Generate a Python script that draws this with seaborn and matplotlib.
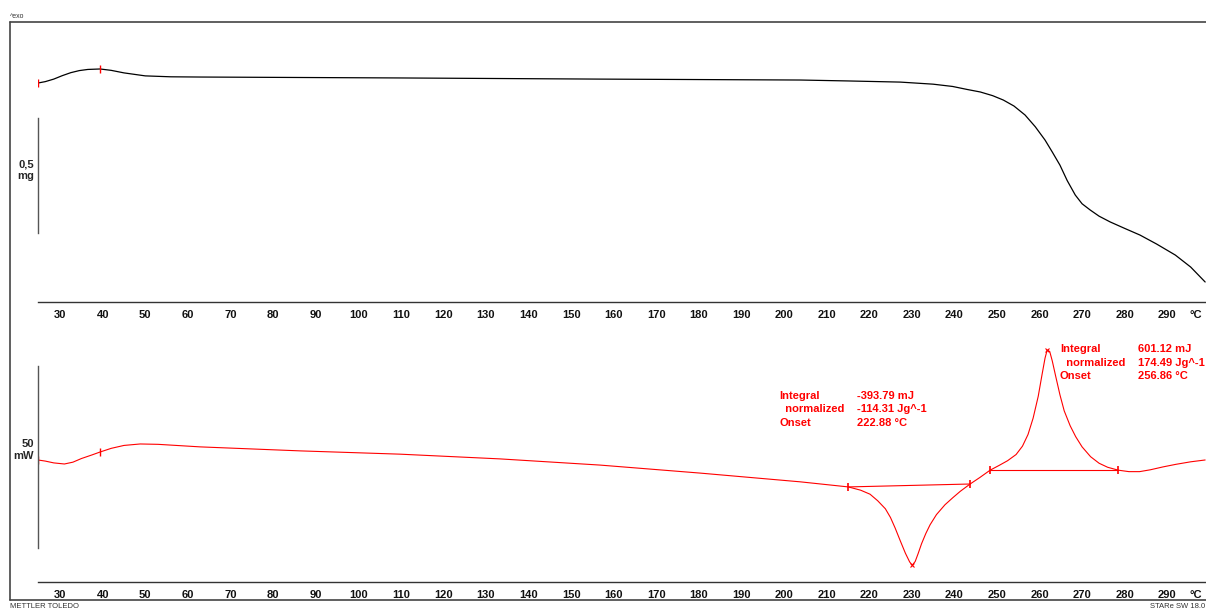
import numpy as np
import pandas as pd
import seaborn as sns
import matplotlib.pyplot as plt
from matplotlib.lines import Line2D
from matplotlib.ticker import MultipleLocator

# TGA curve (mass, mg)
temp_tga = [24.8, 26.5, 28.5, 30.5, 32.5, 34.5, 36.5, 39.4, 42.0, 45.0, 50.0, 56.0,
            62.9, 109.8, 156.8, 203.8, 215.0, 227.3, 235.0, 239.6, 243.0, 246.1,
            249.0, 251.5, 254.0, 256.6, 259.0, 261.3, 263.0, 264.8, 266.5, 268.4,
            270.0, 271.9, 274.0, 276.6, 280.0, 283.6, 287.5, 291.9, 295.5, 298.9]
mass_mg = [4.000, 4.006, 4.017, 4.032, 4.045, 4.054, 4.059, 4.061, 4.055, 4.044, 4.031, 4.027,
           4.026, 4.022, 4.017, 4.013, 4.009, 4.004, 3.995, 3.985, 3.972, 3.961,
           3.945, 3.926, 3.900, 3.861, 3.810, 3.752, 3.700, 3.643, 3.576, 3.513,
           3.475, 3.448, 3.421, 3.396, 3.368, 3.339, 3.300, 3.252, 3.200, 3.135]

# DSC curve (heat flow, mW)
temp_dsc = [24.8, 26.5, 28.5, 31.0, 33.0, 35.0, 37.5, 39.4, 42.0, 45.0, 48.8, 53.0,
            62.9, 86.4, 109.8, 133.3, 156.8, 180.3, 203.8, 215.1, 218.0, 220.2,
            222.0, 223.8, 225.0, 226.1, 227.3, 228.5, 229.5, 230.1, 230.8, 231.5,
            232.3, 233.3, 234.3, 235.8, 237.8, 239.6, 241.4, 243.7, 246.0, 248.4,
            250.5, 252.5, 254.5, 256.0, 257.3, 258.5, 259.7, 260.6, 261.3, 261.8,
            262.4, 263.0, 263.8, 264.8, 265.8, 267.2, 268.5, 270.0, 272.0, 274.0,
            276.0, 278.5, 281.0, 283.5, 286.0, 289.0, 292.0, 295.5, 298.9]
heat_flow_mw = [0.0, -0.3, -0.8, -1.1, -0.6, 0.4, 1.4, 2.2, 3.2, 4.0, 4.4, 4.3,
                3.6, 2.5, 1.6, 0.3, -1.4, -3.6, -6.0, -7.4, -8.3, -9.4,
                -11.2, -13.4, -15.8, -18.7, -22.2, -25.6, -28.0, -28.9, -27.9, -25.7,
                -23.0, -20.2, -17.8, -15.0, -12.3, -10.4, -8.6, -6.6, -4.8, -2.8,
                -1.5, -0.2, 1.5, 3.8, 7.0, 11.5, 17.5, 23.5, 28.0, 30.2,
                29.8, 27.2, 23.0, 17.9, 13.5, 9.4, 6.4, 3.6, 0.9, -0.9,
                -2.0, -2.8, -3.2, -3.2, -2.7, -1.9, -1.2, -0.5, 0.0]

mark_temps = [24.8, 39.4]
limits_1 = [215.1, 243.7]
limits_2 = [248.4, 278.5]
result_names = ["Integral", "  normalized", "Onset"]
results_1 = ["-393.79 mJ", "-114.31 Jg^-1", "222.88 °C"]
results_2 = ["601.12 mJ", "174.49 Jg^-1", "256.86 °C"]
tick_temps = list(range(30, 300, 10))

sns.set_style("white")
plt.rcParams["font.family"] = ["Liberation Sans", "DejaVu Sans"]

W, H = 1206, 610
fig = plt.figure(figsize=(W / 100, H / 100), dpi=100)

ax1 = fig.add_axes([38 / W, 1 - 302 / H, 1168 / W, 262 / H])
ax2 = fig.add_axes([38 / W, 1 - 582 / H, 1168 / W, 252 / H])

tga = pd.DataFrame({"temp": temp_tga, "mass": mass_mg})
dsc = pd.DataFrame({"temp": temp_dsc, "hf": heat_flow_mw})

sns.lineplot(data=tga, x="temp", y="mass", color="black", lw=0.9, estimator=None, ax=ax1)
sns.lineplot(data=dsc, x="temp", y="hf", color="red", lw=0.8, estimator=None, ax=ax2)

# limit marks and integration baselines
ax1.plot(mark_temps, np.interp(mark_temps, temp_tga, mass_mg), ls="none",
         marker="|", ms=6, mew=1, color="red")
ax2.plot(mark_temps, np.interp(mark_temps, temp_dsc, heat_flow_mw), ls="none",
         marker="|", ms=6, mew=1, color="red")
for lim in [limits_1, limits_2]:
    ax2.plot(lim, np.interp(lim, temp_dsc, heat_flow_mw), color="red", lw=0.8,
             marker="|", ms=6, mew=1.2)
for i in [np.argmin(heat_flow_mw), np.argmax(heat_flow_mw)]:
    ax2.plot(temp_dsc[i], heat_flow_mw[i], marker="x", ms=3, mew=0.8, color="red")

ax1.set_ylim(3.048, 4.187)
ax2.set_ylim(-33.52, 35.71)
scale_bars = {ax1: (3.348, 3.848), ax2: (-24.2, 25.8)}

for ax in [ax1, ax2]:
    ax.set_xlim(24.8, 299.1)
    ax.set_xlabel("")
    ax.set_ylabel("")
    ax.patch.set_alpha(0)
    ax.set_xticks(tick_temps + [296.6])
    ax.set_xticklabels([str(t) for t in tick_temps] + ["°C"], fontweight="bold")
    ax.xaxis.set_minor_locator(MultipleLocator(2))
    ax.tick_params(axis="x", which="major", length=3.5, width=0.7, color="#333",
                   labelsize=8, pad=2, labelcolor="#111")
    ax.tick_params(axis="x", which="minor", length=2, width=0.6, color="#333")
    ax.spines["top"].set_visible(False)
    ax.spines["right"].set_visible(False)
    ax.spines["bottom"].set_color("#333")
    ax.spines["bottom"].set_linewidth(1)
    lo, hi = scale_bars[ax]
    ax.spines["left"].set_bounds(lo, hi)
    ax.spines["left"].set_color("#555")
    ax.spines["left"].set_linewidth(1)
    ax.set_yticks([lo, hi])
    ax.set_yticklabels(["", ""])
    ax.tick_params(axis="y", length=3, width=1, color="#555", direction="out")

# scale labels
fig.text(34 / W, 1 - 170 / H, "0,5\nmg", ha="right", va="center", fontsize=8,
         fontweight="bold", linespacing=1.15)
fig.text(34 / W, 1 - 450 / H, "50\nmW", ha="right", va="center", fontsize=8,
         fontweight="bold", linespacing=1.15)

# result tables
for (x0, y0), vals in [((779, 396), results_1), ((1060, 349), results_2)]:
    for k, (name, val) in enumerate(zip(result_names, vals)):
        y = 1 - (y0 + k * 13.5) / H
        fig.text(x0 / W, y, name, color="red", fontsize=8, fontweight="bold", va="center")
        fig.text((x0 + 78) / W, y, val, color="red", fontsize=8, fontweight="bold", va="center")

# outer frame and captions
frame = "#444"
fig.add_artist(Line2D([10 / W, 10 / W], [1 - 22 / H, 1 - 600 / H], color=frame, lw=1.2))
fig.add_artist(Line2D([10 / W, 1], [1 - 22 / H, 1 - 22 / H], color=frame, lw=1.2))
fig.add_artist(Line2D([10 / W, 1], [1 - 600 / H, 1 - 600 / H], color=frame, lw=1.2))
fig.text(10 / W, 1 - 16 / H, "^exo", fontsize=5, va="center", color="#333")
fig.text(10 / W, 1 - 603 / H, "METTLER TOLEDO", fontsize=5.5, va="top", color="#333")
fig.text(1150 / W, 1 - 603 / H, "STARe SW 18.0", fontsize=5.5, va="top", color="#333")

fig.savefig("out.png", dpi=100)
